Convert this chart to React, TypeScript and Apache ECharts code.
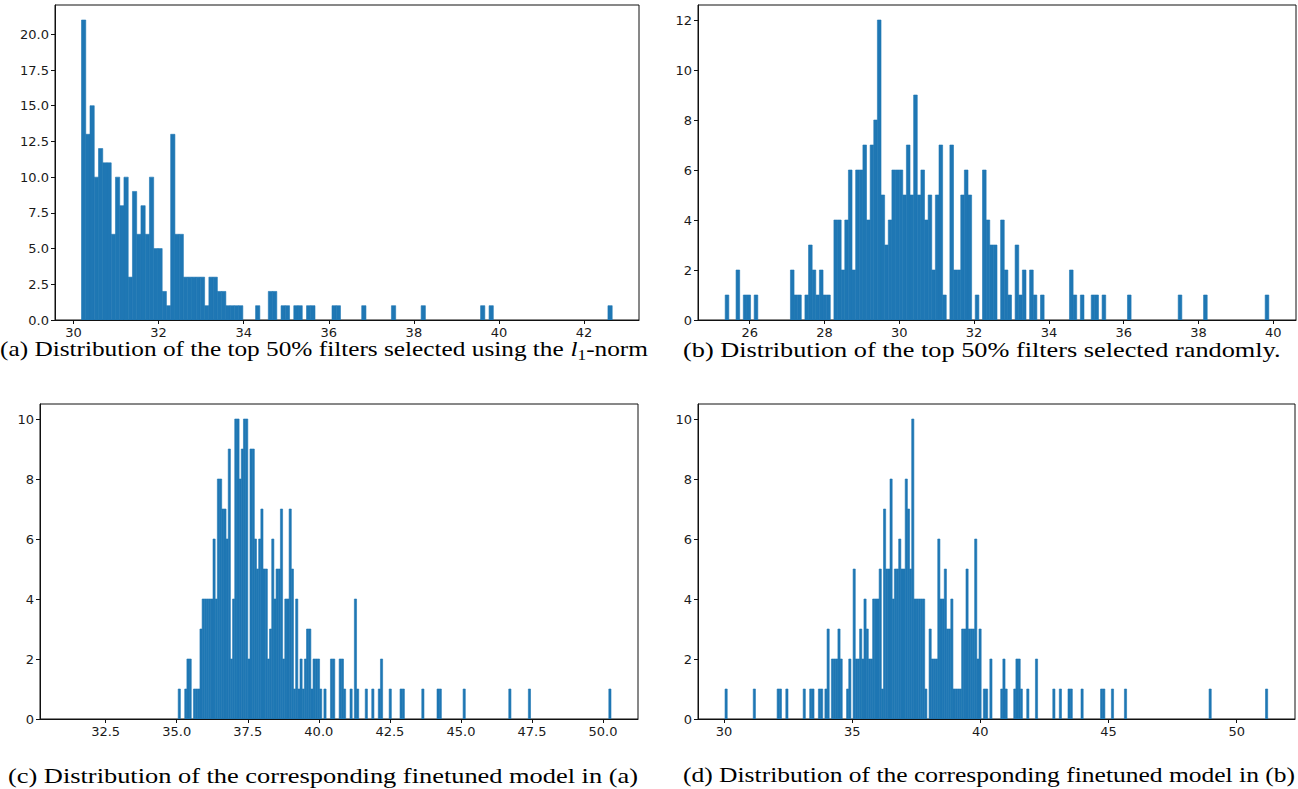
import React, { useEffect, useRef } from "react";
import * as echarts from "echarts";

// ---------- Panel (a): l1-norm top 50% ----------
const aRange = [30.19, 42.66];
const aBinCount = 125;
const aIdx = [0,1,2,3,4,5,6,7,8,9,10,11,12,13,14,15,16,17,18,19,20,21,22,23,24,25,26,27,28,29,30,31,32,33,34,35,36,37,41,44,45,47,48,50,51,53,54,59,60,66,73,80,94,96,124];
const aCnt = [21,13,15,10,12,11,11,6,10,8,10,3,9,6,8,6,10,5,5,2,1,13,6,6,3,3,3,3,3,1,3,3,2,2,1,1,1,1,1,2,2,1,1,1,1,1,1,1,1,1,1,1,1,1,1];
const aXTicks = [30, 32, 34, 36, 38, 40, 42];
const aYTicks = [0, 2.5, 5, 7.5, 10, 12.5, 15, 17.5, 20];

// ---------- Panel (b): random top 50% ----------
const bRange = [25.344, 39.88];
const bBinCount = 150;
const bIdx = [0,3,5,6,8,18,19,20,22,23,24,25,26,27,28,30,31,32,33,34,35,36,37,38,39,40,41,42,43,44,45,46,47,48,49,50,51,52,53,54,55,56,57,58,59,60,62,63,64,65,66,67,69,71,72,73,74,76,77,78,80,81,82,84,85,87,95,96,98,101,102,104,111,125,132,149];
const bCnt = [1,2,1,1,1,2,1,1,1,3,2,1,2,1,1,4,4,2,4,6,2,6,6,7,4,7,8,12,5,3,4,6,6,6,5,7,5,9,5,6,4,5,2,5,7,1,7,2,2,5,6,5,1,6,4,3,3,4,2,1,3,1,2,2,1,1,2,1,1,1,1,1,1,1,1,1];
const bXTicks = [26, 28, 30, 32, 34, 36, 38, 40];
const bYTicks = [0, 2, 4, 6, 8, 10, 12];

// ---------- Panel (c): finetuned model of (a) ----------
const cRange = [31.15, 50.28];
const cBinCount = 250;
const cIdx = [51,54,55,56,58,59,60,61,62,63,64,65,66,67,68,69,70,71,72,73,74,75,76,77,78,79,80,81,82,83,84,85,86,87,88,89,90,91,92,93,94,95,96,97,98,99,100,101,102,103,104,105,106,107,108,109,110,111,112,113,114,115,116,118,121,122,125,126,127,130,132,133,137,140,143,144,148,153,154,163,170,171,182,203,212,249];
const cCnt = [1,1,2,2,1,1,1,3,4,4,4,4,4,6,4,8,8,7,7,6,9,2,4,10,10,8,9,10,10,2,9,9,6,5,6,7,5,5,2,3,6,4,5,5,7,2,4,4,7,5,1,4,1,2,1,2,3,3,1,2,2,2,1,1,2,2,2,2,1,1,4,1,1,1,1,2,1,1,1,1,1,1,1,1,1,1];
const cXTicks = [32.5, 35, 37.5, 40, 42.5, 45, 47.5, 50];
const cYTicks = [0, 2, 4, 6, 8, 10];

// ---------- Panel (d): finetuned model of (b) ----------
const dRange = [30.04, 51.21];
const dBinCount = 250;
const dIdx = [0,13,24,25,28,36,39,40,43,44,46,47,49,50,51,52,53,56,57,59,60,61,62,63,64,65,66,67,68,69,70,71,72,73,74,75,76,77,78,79,80,81,82,83,84,85,86,87,88,89,90,91,92,94,95,96,97,98,99,100,101,102,103,104,105,106,107,108,109,110,111,112,113,114,115,116,117,119,120,122,127,128,129,133,134,135,136,139,143,151,154,158,159,164,173,174,178,184,223,249];
const dCnt = [1,1,1,1,1,1,1,1,1,1,1,3,2,2,2,3,2,1,2,5,2,2,3,2,4,3,2,2,4,4,4,5,1,7,5,5,8,4,5,5,6,5,5,8,7,5,10,4,4,4,4,4,1,3,2,2,2,6,4,4,5,3,3,4,1,1,1,1,3,3,5,3,3,3,6,2,3,1,1,2,1,2,1,1,2,2,1,1,2,1,1,1,1,1,1,1,1,1,1,1];
const dXTicks = [30, 35, 40, 45, 50];
const dYTicks = [0, 2, 4, 6, 8, 10];

const captions = [
  "(a) Distribution of the top 50% filters selected using the {i|l}{s|1}-norm",
  "(b) Distribution of the top 50% filters selected randomly.",
  "(c) Distribution of the corresponding finetuned model in (a)",
  "(d) Distribution of the corresponding finetuned model in (b)",
];

const BLUE = "#1f77b4";

function histData(range: number[], n: number, idx: number[], cnt: number[]) {
  const w = (range[1] - range[0]) / n;
  return idx.map((k, i) => [range[0] + k * w, range[0] + (k + 1) * w, cnt[i]]);
}

function renderBar(_params: any, api: any) {
  const p0 = api.coord([api.value(0), api.value(2)]);
  const p1 = api.coord([api.value(1), 0]);
  return {
    type: "rect",
    shape: { x: p0[0], y: p0[1], width: p1[0] - p0[0], height: p1[1] - p0[1] },
    style: { fill: BLUE, stroke: BLUE, lineWidth: 0.6 },
  };
}

export default function App() {
  const ref = useRef<HTMLDivElement>(null);
  useEffect(() => {
    if (!ref.current) return;
    const chart = echarts.init(ref.current, undefined, { renderer: "svg" });
    const grids = [
      { left: 55, top: 5, width: 584, height: 315 },
      { left: 698, top: 5, width: 598, height: 315 },
      { left: 40, top: 404, width: 598, height: 315 },
      { left: 698, top: 404, width: 597, height: 315 },
    ];
    const panels = [
      { range: aRange, n: aBinCount, idx: aIdx, cnt: aCnt, xt: aXTicks, yt: aYTicks, ymax: 21 * 1.05, xfmt: (v: number) => String(v), yfmt: (v: number) => v.toFixed(1) },
      { range: bRange, n: bBinCount, idx: bIdx, cnt: bCnt, xt: bXTicks, yt: bYTicks, ymax: 12 * 1.05, xfmt: (v: number) => String(v), yfmt: (v: number) => String(v) },
      { range: cRange, n: cBinCount, idx: cIdx, cnt: cCnt, xt: cXTicks, yt: cYTicks, ymax: 10 * 1.05, xfmt: (v: number) => v.toFixed(1), yfmt: (v: number) => String(v) },
      { range: dRange, n: dBinCount, idx: dIdx, cnt: dCnt, xt: dXTicks, yt: dYTicks, ymax: 10 * 1.05, xfmt: (v: number) => String(v), yfmt: (v: number) => String(v) },
    ];
    const xMinMax = [
      [29.567, 43.29],
      [24.617, 40.607],
      [30.19, 51.23],
      [28.985, 52.276],
    ];
    const labelStyle = { fontFamily: "DejaVu Sans", fontSize: 13, color: "#1a1a1a" };
    const axisLine = { show: true, onZero: false, lineStyle: { color: "#111", width: 1 } };
    const option: any = {
      animation: false,
      backgroundColor: "#fff",
      grid: grids.map((g) => ({ ...g, show: true, borderColor: "#111", borderWidth: 1, backgroundColor: "transparent" })),
      xAxis: panels.map((p, i) => ({
        type: "value",
        gridIndex: i,
        min: xMinMax[i][0],
        max: xMinMax[i][1],
        axisLine,
        axisTick: { show: true, length: 4, inside: false, lineStyle: { color: "#111" }, customValues: p.xt },
        axisLabel: { ...labelStyle, margin: 6, customValues: p.xt, formatter: p.xfmt },
        splitLine: { show: false },
      })),
      yAxis: panels.map((p, i) => ({
        type: "value",
        gridIndex: i,
        min: 0,
        max: p.ymax,
        axisLine,
        axisTick: { show: true, length: 4, inside: false, lineStyle: { color: "#111" }, customValues: p.yt },
        axisLabel: { ...labelStyle, margin: 6, customValues: p.yt, formatter: p.yfmt },
        splitLine: { show: false },
      })),
      series: panels.map((p, i) => ({
        type: "custom",
        xAxisIndex: i,
        yAxisIndex: i,
        renderItem: renderBar,
        encode: { x: [0, 1], y: 2 },
        clip: true,
        data: histData(p.range, p.n, p.idx, p.cnt),
      })),
      graphic: [
        [0, 349, 1.15], [683, 349, 1.195], [8, 775, 1.2], [683, 775, 1.16],
      ].map((pos, i) => ({
        type: "text",
        x: pos[0],
        y: pos[1],
        scaleX: pos[2],
        style: {
          text: captions[i],
          fontFamily: "Liberation Serif",
          fontSize: 22,
          fill: "#000",
          textAlign: "left",
          textVerticalAlign: "middle",
          rich: {
            i: { fontFamily: "Liberation Serif", fontStyle: "italic", fontSize: 22, fill: "#000" },
            s: { fontFamily: "Liberation Serif", fontSize: 15, fill: "#000", padding: [12, 0, 0, 0] },
          },
        },
      })),
    };
    chart.setOption(option);
    return () => chart.dispose();
  }, []);
  return <div ref={ref} style={{ position: "fixed", left: 0, top: 0, width: 1298, height: 789 }} />;
}
